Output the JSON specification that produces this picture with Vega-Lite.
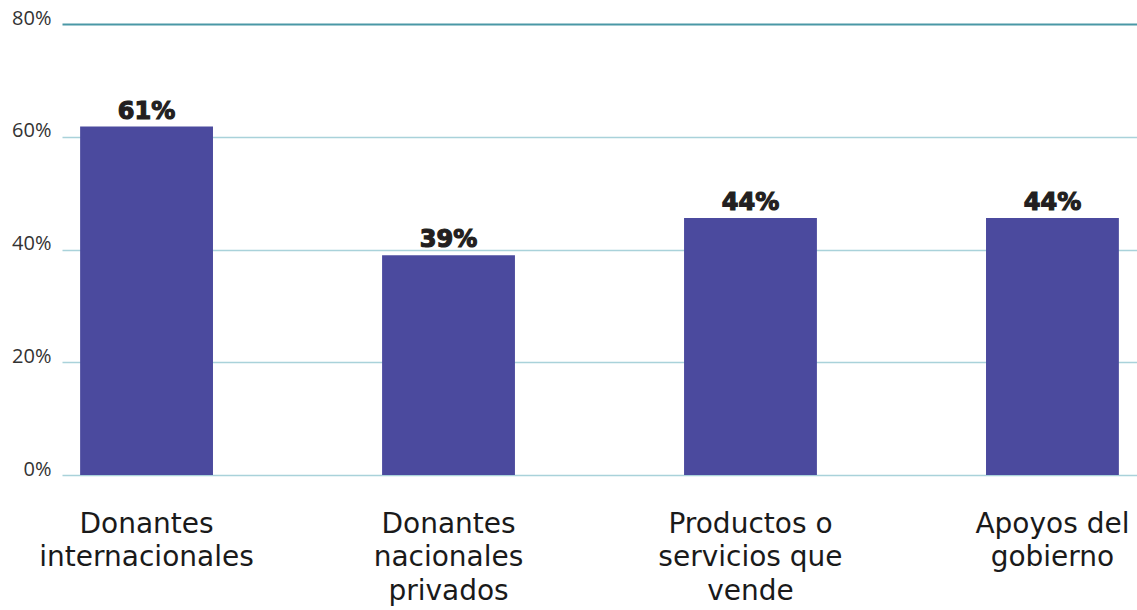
{
  "$schema": "https://vega.github.io/schema/vega-lite/v6.json",
  "autosize": "none",
  "padding": {"left": 62, "top": 24, "right": 0, "bottom": 135},
  "width": 1075,
  "height": 451,
  "background": "white",
  "data": {
    "values": [
      {"fuente": "Donantes|internacionales", "valor": 61.8, "etiqueta": "61%"},
      {"fuente": "Donantes|nacionales|privados", "valor": 39.0, "etiqueta": "39%"},
      {"fuente": "Productos o|servicios que|vende", "valor": 45.6, "etiqueta": "44%"},
      {"fuente": "Apoyos del|gobierno", "valor": 45.6, "etiqueta": "44%"}
    ]
  },
  "config": {"view": {"stroke": null}},
  "encoding": {
    "x": {
      "field": "fuente",
      "type": "nominal",
      "sort": null,
      "scale": {"paddingInner": 0.56, "paddingOuter": 0.06},
      "axis": {
        "title": null,
        "domain": false,
        "ticks": false,
        "labelAngle": 0,
        "labelExpr": "split(datum.label, '|')",
        "labelFont": "DejaVu Sans",
        "labelFontSize": 28,
        "labelColor": "#1a1a1a",
        "labelLineHeight": 33.5,
        "labelPadding": 35,
        "labelLimit": 400,
        "labelBaseline": "top"
      }
    },
    "y": {
      "field": "valor",
      "type": "quantitative",
      "scale": {"domain": [0, 80]},
      "axis": {
        "title": null,
        "domain": false,
        "ticks": false,
        "values": [0, 20, 40, 60, 80],
        "labelExpr": "datum.value + '%'",
        "labelFont": "Open Sans",
        "labelFontSize": 20,
        "labelColor": "#333333",
        "labelPadding": 11,
        "labelBaseline": "alphabetic",
        "gridColor": {"condition": {"test": "datum.value === 80", "value": "#4a98a6"}, "value": "#a9d2da"},
        "gridWidth": {"condition": {"test": "datum.value === 80", "value": 2}, "value": 1.3}
      }
    }
  },
  "layer": [
    {"mark": {"type": "bar", "color": "#4b4a9e"}},
    {
      "mark": {"type": "text", "baseline": "alphabetic", "dy": -8, "font": "DejaVu Sans", "fontWeight": "bold", "fontSize": 24, "color": "#231f20", "stroke": "#231f20", "strokeWidth": 1.2},
      "encoding": {"text": {"field": "etiqueta"}}
    }
  ]
}
